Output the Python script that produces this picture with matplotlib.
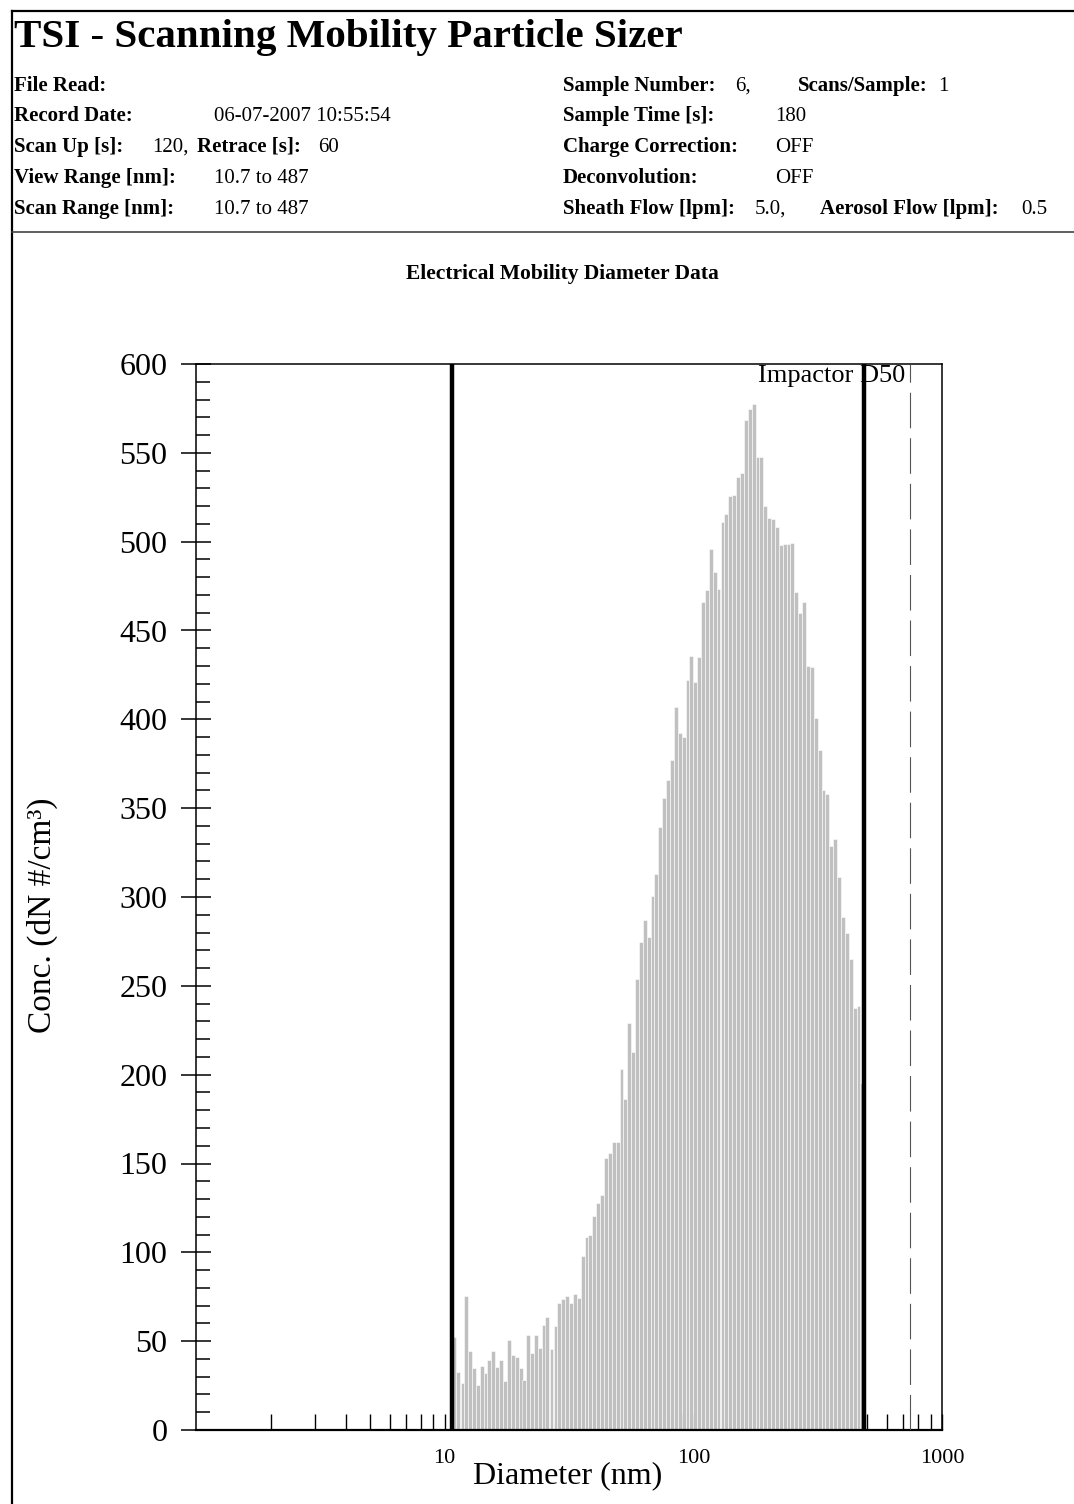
import numpy as np
import matplotlib.pyplot as plt
from matplotlib.lines import Line2D
from matplotlib.ticker import MultipleLocator, LogLocator, NullFormatter

plt.rcParams['font.family'] = ['Liberation Serif', 'DejaVu Serif']

# SMPS channel midpoints (nm), 64 channels/decade
diameters = [10.9, 11.3, 11.8, 12.2, 12.6, 13.1, 13.6, 14.1, 14.6, 15.1,
             15.7, 16.3, 16.8, 17.5, 18.1, 18.8, 19.5, 20.2, 20.9, 21.7,
             22.5, 23.3, 24.1, 25.0, 25.9, 26.9, 27.9, 28.9, 30.0, 31.1,
             32.2, 33.4, 34.6, 35.9, 37.2, 38.5, 40.0, 41.4, 42.9, 44.5,
             46.1, 47.8, 49.6, 51.4, 53.3, 55.2, 57.3, 59.4, 61.5, 63.8,
             66.1, 68.5, 71.0, 73.7, 76.4, 79.1, 82.0, 85.1, 88.2, 91.4,
             94.7, 98.2, 101.8, 105.5, 109.4, 113.4, 117.6, 121.9, 126.3, 131.0,
             135.8, 140.7, 145.9, 151.2, 156.8, 162.5, 168.5, 174.7, 181.1, 187.7,
             194.6, 201.7, 209.1, 216.7, 224.7, 232.9, 241.4, 250.3, 259.5, 269.0,
             278.8, 289.0, 299.6, 310.6, 322.0, 333.8, 346.0, 358.7, 371.8, 385.4,
             399.5, 414.2, 429.4, 445.1, 461.4, 478.3]

# dN concentration (#/cm3)
conc = [52.5, 32.8, 26.6, 75.4, 44.5, 34.9, 25.1, 35.8, 31.9, 39.4,
        44.5, 35.4, 39.4, 27.8, 50.5, 42.0, 40.9, 34.9, 28.3, 53.6,
        43.5, 53.6, 46.1, 59.1, 63.6, 45.8, 58.5, 71.3, 73.5, 75.4,
        71.3, 76.5, 74.5, 97.7, 108.8, 109.7, 120.4, 127.6, 132.1, 152.9,
        155.9, 161.9, 161.9, 203.0, 186.3, 228.9, 212.9, 253.6, 274.8, 287.0,
        277.6, 300.7, 312.9, 339.5, 355.7, 365.8, 377.0, 407.0, 392.4, 390.2,
        422.1, 435.6, 421.1, 435.2, 466.1, 472.7, 496.0, 482.8, 473.6, 510.8,
        515.6, 525.9, 526.3, 536.3, 538.9, 568.4, 574.4, 577.4, 547.4, 547.7,
        519.8, 513.6, 512.5, 508.2, 498.0, 498.6, 498.6, 499.5, 471.7, 459.9,
        466.1, 430.1, 429.2, 401.0, 382.7, 360.5, 357.9, 328.6, 332.6, 311.2,
        288.5, 279.5, 264.9, 237.5, 238.6, 195.4]

view_range = [10.7, 487]
impactor_d50 = 745

W, H = 1074, 1504


def px(x, y):
    return x / W, 1 - y / H


fig = plt.figure(figsize=(W / 100, H / 100), dpi=100)

# frame + header
fig.add_artist(Line2D([12 / W, 12 / W], [0, 1 - 11 / H], color='black', lw=1.6))
fig.add_artist(Line2D([12 / W, 1], [1 - 11 / H, 1 - 11 / H], color='black', lw=1.6))
fig.add_artist(Line2D([12 / W, 1], [1 - 232 / H, 1 - 232 / H], color='#444444', lw=1.2))

fig.text(*px(14, 47), 'TSI - Scanning Mobility Particle Sizer', fontsize=29.5,
         fontweight='bold', va='baseline')

hs = 15
rows = [91, 121, 152, 183, 214]
header = [
    # (x, row, text, bold)
    (14, 0, 'File Read:', True),
    (14, 1, 'Record Date:', True), (214, 1, '06-07-2007 10:55:54', False),
    (14, 2, 'Scan Up [s]:', True), (152, 2, '120,', False),
    (197, 2, 'Retrace [s]:', True), (318, 2, '60', False),
    (14, 3, 'View Range [nm]:', True), (214, 3, '10.7 to 487', False),
    (14, 4, 'Scan Range [nm]:', True), (214, 4, '10.7 to 487', False),
    (563, 0, 'Sample Number:', True), (735, 0, '6,', False),
    (798, 0, 'Scans/Sample:', True), (938, 0, '1', False),
    (563, 1, 'Sample Time [s]:', True), (775, 1, '180', False),
    (563, 2, 'Charge Correction:', True), (775, 2, 'OFF', False),
    (563, 3, 'Deconvolution:', True), (775, 3, 'OFF', False),
    (563, 4, 'Sheath Flow [lpm]:', True), (755, 4, '5.0,', False),
    (820, 4, 'Aerosol Flow [lpm]:', True), (1021, 4, '0.5', False),
]
for x, r, t, b in header:
    fig.text(*px(x, rows[r]), t, fontsize=hs, va='baseline',
             fontweight='bold' if b else 'normal')

fig.text(*px(562, 279), 'Electrical Mobility Diameter Data', fontsize=15.5,
         fontweight='bold', ha='center', va='baseline')

# plot
ax = fig.add_axes([196 / W, 1 - 1430 / H, (942 - 196) / W, (1430 - 364) / H])
ax.set_axisbelow(True)

d = np.array(diameters)
half = 10 ** (1 / 128)
left = d / half
right = d * half
ax.bar(left, conc, width=right - left, align='edge', color='#c0c0c0',
       edgecolor='white', linewidth=0.4, zorder=1)

for v in view_range:
    ax.axvline(v, color='black', lw=3.2, zorder=3)
ax.axvline(impactor_d50, color='#555555', lw=0.8, linestyle=(0, (32, 9)), zorder=3)
ax.text(712, 599.5, 'Impactor D50', ha='right', va='top', fontsize=19, zorder=4)

ax.set_xscale('log')
ax.set_xlim(1, 1000)
ax.set_ylim(0, 600)

ax.set_xticks([10, 100, 1000])
ax.set_xticklabels(['10', '100', '1000'])
ax.xaxis.set_minor_locator(LogLocator(base=10, subs=np.arange(2, 10)))
ax.xaxis.set_minor_formatter(NullFormatter())
ax.set_yticks(np.arange(0, 601, 50))
ax.yaxis.set_minor_locator(MultipleLocator(10))

ax.tick_params(axis='x', which='both', direction='in', length=11.5, width=1.0,
               pad=14, labelsize=16)
ax.tick_params(axis='y', which='major', direction='inout', length=21, width=1.1,
               pad=10, labelsize=23)
ax.tick_params(axis='y', which='minor', direction='in', length=10, width=1.1)

for s in ax.spines.values():
    s.set_linewidth(1.1)
ax.spines['bottom'].set_linewidth(1.6)

fig.text(*px(42, 915), 'Conc. (dN #/cm³)', fontsize=24, rotation=90,
         ha='center', va='center')
fig.text(*px(568, 1476), 'Diameter (nm)', fontsize=23, ha='center', va='center')

fig.savefig('out.png', dpi=100)
